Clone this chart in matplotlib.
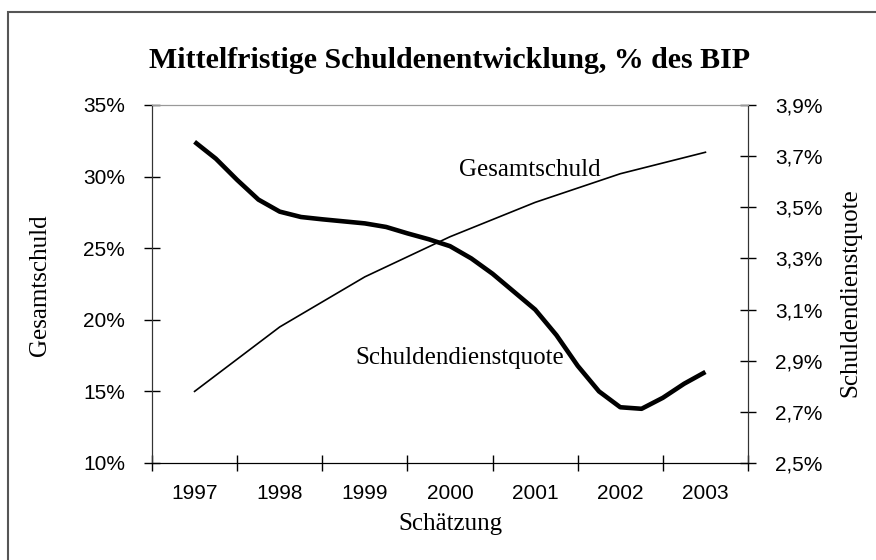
import matplotlib
matplotlib.use("Agg")
import matplotlib.pyplot as plt
from matplotlib.patches import Rectangle
from matplotlib.ticker import FixedLocator, FuncFormatter

# -------------------------------
# Data
# -------------------------------
years = ["1997", "1998", "1999", "2000", "2001", "2002", "2003"]
gesamtschuld = [15.0, 19.5, 23.0, 25.8, 28.2, 30.2, 31.7]  # % des BIP, yearly

# Schuldendienstquote, quarterly from 1997 to 2003
quote_x = [i / 4 for i in range(25)]
quote = [3.756, 3.69, 3.607, 3.53, 3.483, 3.462, 3.453, 3.445, 3.437,
         3.423, 3.398, 3.375, 3.348, 3.30, 3.24, 3.17, 3.10, 3.00,
         2.88, 2.78, 2.718, 2.712, 2.755, 2.81, 2.856]

W, H = 876, 560
SERIF = "Liberation Serif"
SANS = "Liberation Sans"
TICK_FS = 15
LABEL_FS = 18


def fx(px):
    return px / W


def fy(py):
    return 1 - py / H


fig = plt.figure(figsize=(W / 100, H / 100), dpi=100)
fig.patch.set_facecolor("white")

# outer chart border
fig.patches.append(Rectangle((fx(8), fy(600)), fx(900), fy(12) - fy(600),
                             transform=fig.transFigure, fill=False,
                             edgecolor="#555555", lw=1.5))

ax = fig.add_axes([fx(152), fy(463), fx(748) - fx(152), fy(105) - fy(463)])
ax2 = ax.twinx()

ax.plot(range(len(years)), gesamtschuld, color="black", lw=1.2)
ax2.plot(quote_x, quote, color="black", lw=3.3, solid_capstyle="butt")

ax.set_xlim(-0.5, 6.5)
ax.set_ylim(10, 35)
ax2.set_ylim(2.5, 3.9)

ax.xaxis.set_major_locator(FixedLocator([i + 0.5 for i in range(-1, 7)]))
ax.xaxis.set_minor_locator(FixedLocator(range(7)))
ax.set_xticklabels([])
ax.set_xticklabels(years, minor=True, fontfamily=SANS, fontsize=TICK_FS)
ax.tick_params(axis="x", which="major", direction="inout", length=11, width=1)
ax.tick_params(axis="x", which="minor", length=0, pad=15)

ax.set_yticks(range(10, 36, 5))
ax.yaxis.set_major_formatter(FuncFormatter(lambda v, p: f"{v:.0f}%"))
ax.tick_params(axis="y", direction="inout", length=11, width=1, pad=14)
for t in ax.get_yticklabels():
    t.set_fontfamily(SANS)
    t.set_fontsize(TICK_FS)

ax2.set_yticks([2.5 + 0.2 * i for i in range(8)])
ax2.yaxis.set_major_formatter(FuncFormatter(lambda v, p: f"{v:.1f}%".replace(".", ",")))
ax2.tick_params(axis="y", direction="inout", length=11, width=1, pad=14)
for t in ax2.get_yticklabels():
    t.set_fontfamily(SANS)
    t.set_fontsize(TICK_FS)

for a in (ax, ax2):
    a.spines["top"].set_color("#999999")
    a.spines["left"].set_color("#333333")
    a.spines["right"].set_color("#333333")
    a.spines["bottom"].set_color("black")
    a.set_facecolor("none")

# text
fig.text(fx(450), fy(60), "Mittelfristige Schuldenentwicklung, % des BIP",
         ha="center", va="center", fontfamily=SERIF, fontweight="bold", fontsize=21.5)
fig.text(fx(530), fy(170), "Gesamtschuld", ha="center", va="center",
         fontfamily=SERIF, fontsize=LABEL_FS)
fig.text(fx(460), fy(358), "Schuldendienstquote", ha="center", va="center",
         fontfamily=SERIF, fontsize=LABEL_FS)
fig.text(fx(40), fy(285), "Gesamtschuld", ha="center", va="center", rotation=90,
         fontfamily=SERIF, fontsize=LABEL_FS)
fig.text(fx(850), fy(293), "Schuldendienstquote", ha="center", va="center", rotation=90,
         fontfamily=SERIF, fontsize=LABEL_FS)
fig.text(fx(450), fy(524), "Schätzung", ha="center", va="center",
         fontfamily=SERIF, fontsize=LABEL_FS)

fig.savefig("out.png", dpi=100, facecolor="white")
